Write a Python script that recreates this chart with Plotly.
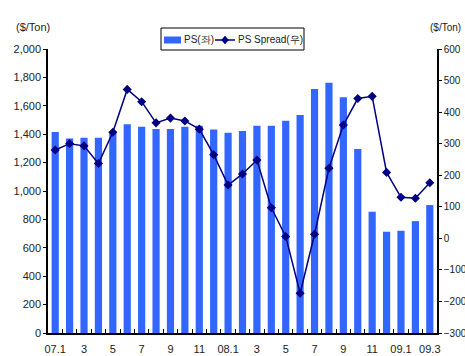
import plotly.graph_objects as go

# Monthly categories, Jan 2007 - Mar 2009
months = [f"07.{m}" for m in range(1, 13)] + [f"08.{m}" for m in range(1, 13)] + [f"09.{m}" for m in range(1, 4)]
tick_labels = ["07.1", "", "3", "", "5", "", "7", "", "9", "", "11", "",
               "08.1", "", "3", "", "5", "", "7", "", "9", "", "11", "",
               "09.1", "", "09.3"]

# PS price ($/Ton, left axis)
ps_price = [1415, 1370, 1375, 1375, 1420, 1470, 1453, 1436, 1436, 1453, 1460, 1433,
            1410, 1422, 1460, 1460, 1495, 1535, 1718, 1762, 1661, 1295, 854, 713,
            720, 788, 901]

# PS spread ($/Ton, right axis)
ps_spread = [280, 300, 293, 237, 336, 472, 433, 366, 381, 372, 346, 265,
             169, 204, 248, 97, 6, -174, 13, 222, 359, 443, 450, 209,
             130, 127, 176]

BAR_COLOR = "#3366FF"
LINE_COLOR = "#000080"
font_family = "Liberation Sans, Arial, sans-serif"

W, H = 465, 356
M = dict(l=48, r=28, t=49, b=23)
PW = W - M["l"] - M["r"]
PH = H - M["t"] - M["b"]


def px(x):
    """Horizontal pixel position -> paper coordinate."""
    return (x - M["l"]) / PW


def py(y):
    """Vertical pixel position (from top) -> paper coordinate."""
    return (H - M["b"] - y) / PH


fig = go.Figure()
fig.add_trace(go.Bar(
    x=months, y=ps_price, name="PS(좌)",
    marker=dict(color=BAR_COLOR, line=dict(width=0)),
    yaxis="y",
))
fig.add_trace(go.Scatter(
    x=months, y=ps_spread, name="PS Spread(우)", mode="lines+markers",
    line=dict(color=LINE_COLOR, width=1.5),
    marker=dict(symbol="diamond", size=7, color=LINE_COLOR),
    yaxis="y2",
))

# Compact legend box drawn as shapes and text
LEG_Y = 40
legend_shapes = [
    dict(type="rect", xref="paper", yref="paper",
         x0=px(161), x1=px(304), y0=py(28), y1=py(50),
         line=dict(color="#000000", width=1), fillcolor="white", layer="above"),
    dict(type="rect", xref="paper", yref="paper",
         x0=px(164), x1=px(181), y0=py(LEG_Y - 3.5), y1=py(LEG_Y + 3.5),
         line=dict(width=0), fillcolor=BAR_COLOR, layer="above"),
    dict(type="line", xref="paper", yref="paper",
         x0=px(215), x1=px(235), y0=py(LEG_Y), y1=py(LEG_Y),
         line=dict(color=LINE_COLOR, width=1.5), layer="above"),
    dict(type="path", xref="paper", yref="paper",
         path=(f"M {px(225)},{py(LEG_Y - 4)} L {px(228.5)},{py(LEG_Y)} "
               f"L {px(225)},{py(LEG_Y + 4)} L {px(221.5)},{py(LEG_Y)} Z"),
         line=dict(color=LINE_COLOR, width=0.5), fillcolor=LINE_COLOR, layer="above"),
]

fig.update_layout(
    width=W, height=H,
    margin=M,
    paper_bgcolor="white", plot_bgcolor="white",
    font=dict(family=font_family, size=11, color="#222222"),
    bargap=0.5,
    showlegend=False,
    xaxis=dict(
        type="category", range=[-0.5, 26.5],
        tickmode="array", tickvals=months, ticktext=tick_labels,
        tickson="boundaries", ticks="inside", ticklen=4, tickcolor="#000000",
        tickangle=0, automargin=False,
        showline=True, linecolor="#000000", linewidth=1.5,
        showgrid=False, ticklabelstandoff=5,
    ),
    yaxis=dict(
        range=[0, 2000], dtick=200, tickformat=",",
        ticks="outside", ticklen=3, tickcolor="#000000", automargin=False,
        showline=True, linecolor="#000000", linewidth=1.5,
        showgrid=False, zeroline=False,
    ),
    yaxis2=dict(
        range=[-300, 600], dtick=100, overlaying="y", side="right",
        ticks="outside", ticklen=3, tickcolor="#000000", automargin=False,
        showline=True, linecolor="#000000", linewidth=1.5,
        showgrid=False, zeroline=False, tickfont=dict(size=10),
    ),
    shapes=legend_shapes,
    annotations=[
        dict(text="($/Ton)", xref="paper", yref="paper", x=px(33), y=py(27),
             showarrow=False, xanchor="center", yanchor="middle"),
        dict(text="($/Ton)", xref="paper", yref="paper", x=px(446), y=py(27),
             showarrow=False, xanchor="center", yanchor="middle", font=dict(size=10)),
        dict(text="PS(좌)", xref="paper", yref="paper", x=px(183), y=py(LEG_Y),
             showarrow=False, xanchor="left", yanchor="middle", borderpad=0,
             xshift=0, font=dict(size=10)),
        dict(text="PS Spread(우)", xref="paper", yref="paper", x=px(237), y=py(LEG_Y),
             showarrow=False, xanchor="left", yanchor="middle", borderpad=0,
             font=dict(size=10)),
    ],
)

fig.write_html("out.html")
